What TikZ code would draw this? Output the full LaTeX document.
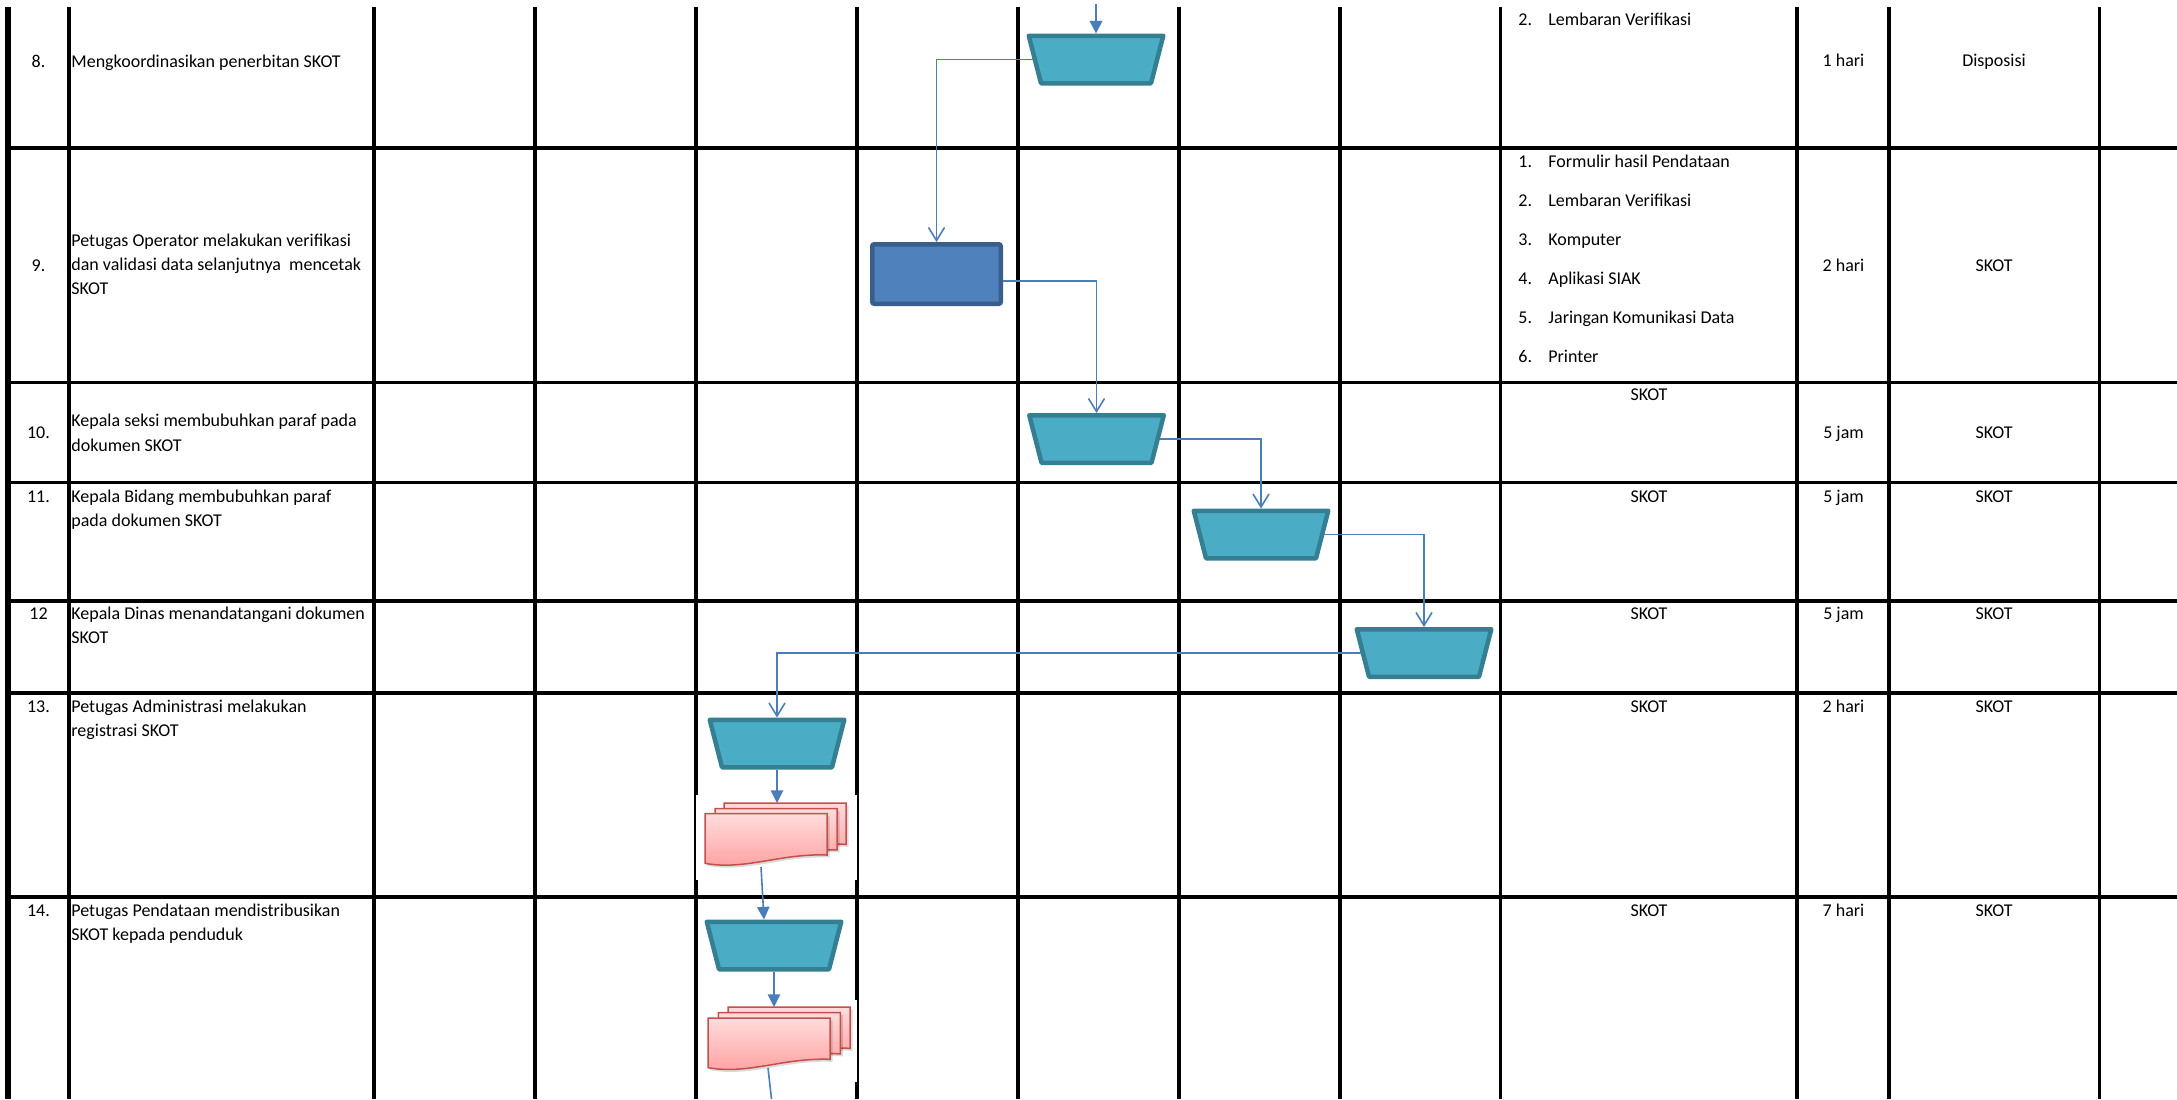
\documentclass[tikz,border=0pt]{standalone}
\usepackage{fontspec}
\setmainfont{Carlito}
\usetikzlibrary{arrows.meta,calc}
\definecolor{trapfill}{HTML}{4BACC6}
\definecolor{trapdraw}{HTML}{357F92}
\definecolor{procfill}{HTML}{4F81BD}
\definecolor{procdraw}{HTML}{3A5E8C}
\definecolor{conn}{HTML}{4A7EBB}
\definecolor{docdraw}{HTML}{C4504D}
\definecolor{doctop}{HTML}{FFDCDC}
\definecolor{docbot}{HTML}{FF9E9E}
\newcommand{\twoln}[2]{\vtop{\baselineskip=12.15pt\hbox{#1}\hbox{#2}}}
\newcommand{\threeln}[3]{\vtop{\baselineskip=12.15pt\hbox{#1}\hbox{#2}\hbox{#3}}}
\newcommand{\itm}[2]{\makebox[15pt][l]{#1}#2}
\tikzset{
  grid/.style={line width=1.65pt, black},
  trapbox/.style={rectangle, minimum width=63.4pt, minimum height=26pt, inner sep=0pt, outer sep=0pt},
  trappic/.pic={
    \path[fill=trapfill, draw=trapdraw, line width=2.25pt, line join=round]
      (-67.25,-23.75) -- (67.25,-23.75) -- (55,23.75) -- (-55,23.75) -- cycle;
  },
  proc/.style={rectangle, minimum width=64.25pt, minimum height=29.75pt,
    inner sep=0pt, fill=procfill, draw=procdraw, line width=2.25pt, rounded corners=1pt},
  docbox/.style={rectangle, minimum width=71pt, minimum height=31.5pt, inner sep=0pt, outer sep=0pt},
  docpage/.style={draw=docdraw, line width=0.75pt, top color=doctop, bottom color=docbot},
  docsheet/.pic={
    \path[fill=black, fill opacity=0.14] (2,2.5) -- (124.5,2.5) -- (124.5,43.8) .. controls (77,42) and (42,59.5) .. (2,52.1) -- cycle;
    \path[docpage] (0,0) -- (122,0) -- (122,41.3) .. controls (75,39.5) and (40,57) .. (0,49.6) -- cycle;
  },
  conn/.style={draw=conn, line width=0.8pt},
  openarr/.style={conn, -{Straight Barb[length=6.5pt, width=8pt]}},
  filledarr/.style={conn, -{Triangle[length=6.3pt, width=6.2pt]}},
  num/.style={anchor=base, inner sep=0pt},
  txt/.style={anchor=base west, inner sep=0pt},
  ctr/.style={anchor=base, inner sep=0pt}
}
\begin{document}
\begin{tikzpicture}[x=0.5pt, y=-0.5pt, font=\fontsize{9}{12.15}\selectfont]
\useasboundingbox (0,0) rectangle (2177,1099);
\fill[white] (0,0) rectangle (2177,1099);

% table grid
\foreach \x in {69,374,535,696,857,1018,1179,1340,1500.5,1797,1889,2099.5}
  \draw[grid] (\x,7) -- (\x,1099);
\draw[grid, line width=2.6pt] (8,7) -- (8,1099);
\foreach \y in {148,382.5,482.5,601,693,897}
  \draw[grid] (8,\y) -- (2177,\y);

% white backgrounds of the document pictures
\fill[white] (695.6,795) rectangle (857.2,880);
\fill[white] (700,1000) rectangle (857.2,1082);

% flowchart shapes
\node[trapbox] (t1) at (1096,59.5) {};
\node[proc] (p1) at (936.5,274) {};
\node[trapbox] (t2) at (1096.5,439) {};
\node[trapbox] (t3) at (1261,534.5) {};
\node[trapbox] (t4) at (1424,653) {};
\node[trapbox] (t5) at (777,743.5) {};
\node[trapbox] (t6) at (774,945.5) {};
\foreach \t in {t1,t2,t3,t4,t5,t6} \pic at (\t.center) {trappic};
\node[docbox] (d1) at (776,834.5) {};
\node[docbox] (d2) at (779,1038.5) {};
\coordinate (in0) at (1096,4);
\coordinate (out) at (771.5,1099);

\begin{scope}[shift={(d1.north west)}]
  \pic at (19,0) {docsheet};
  \pic at (10,5.6) {docsheet};
  \pic at (0,10.7) {docsheet};
\end{scope}
\begin{scope}[shift={(d2.north west)}]
  \pic at (20,0) {docsheet};
  \pic at (10.3,5.5) {docsheet};
  \pic at (0,11) {docsheet};
\end{scope}

% connectors
\draw[filledarr, line width=1.1pt] (in0) -- (t1.north);
\draw[openarr] (t1) -| (p1);
\draw[openarr] ($(p1.east)+(0,7)$) -| (t2.north);
\draw[openarr] (t2) -| (t3);
\draw[openarr] (t3) -| (t4);
\draw[openarr] (t4) -| (t5);
\draw[filledarr] (t5.south) -- (t5.south |- d1.north);
\draw[filledarr] ($(d1.north west)+(56,64)$) -- ($(t6.north)+(-10,0)$);
\draw[filledarr] (t6.south) -- (t6.south |- d2.north);
\draw[conn] ($(d2.north west)+(60,61)$) -- (out);

% column: numbers
\node[num] (n8) at (38.5,67) {8.};
\node[num] (n9) at (38.5,271) {9.};
\node[num] (n10) at (38.5,438) {10.};
\node[num] (n11) at (38.5,502) {11.};
\node[num] (n12) at (38.5,619.5) {12};
\node[num] (n13) at (38.5,712.5) {13.};
\node[num] (n14) at (38.5,916) {14.};

% column: activities
\node[txt] (a8) at (71,67) {Mengkoordinasikan penerbitan SKOT};
\node[txt] (a9) at (71,246) {\threeln{Petugas Operator melakukan verifikasi}{dan validasi data selanjutnya\ \ mencetak}{SKOT}};
\node[txt] (a10) at (71,426.7) {\twoln{Kepala seksi membubuhkan paraf pada}{dokumen SKOT}};
\node[txt] (a11) at (71,502) {\twoln{Kepala Bidang membubuhkan paraf}{pada dokumen SKOT}};
\node[txt] (a12) at (71,619.5) {\twoln{Kepala Dinas menandatangani dokumen}{SKOT}};
\node[txt] (a13) at (71,712.5) {\twoln{Petugas Administrasi melakukan}{registrasi SKOT}};
\node[txt] (a14) at (71,916) {\twoln{Petugas Pendataan mendistribusikan}{SKOT kepada penduduk}};

% column: kelengkapan
\node[txt] (b8) at (1518,25) {\itm{2.}{Lembaran Verifikasi}};
\node[txt] (b9a) at (1518,167) {\itm{1.}{Formulir hasil Pendataan}};
\node[txt] (b9b) at (1518,206) {\itm{2.}{Lembaran Verifikasi}};
\node[txt] (b9c) at (1518,245) {\itm{3.}{Komputer}};
\node[txt] (b9d) at (1518,284) {\itm{4.}{Aplikasi SIAK}};
\node[txt] (b9e) at (1518,323) {\itm{5.}{Jaringan Komunikasi Data}};
\node[txt] (b9f) at (1518,362) {\itm{6.}{Printer}};
\node[ctr] (b10) at (1649,400.7) {SKOT};
\node[ctr] (b11) at (1649,502.7) {SKOT};
\node[ctr] (b12) at (1649,619.3) {SKOT};
\node[ctr] (b13) at (1649,712.3) {SKOT};
\node[ctr] (b14) at (1649,916) {SKOT};

% column: waktu
\node[ctr] (w8) at (1843.5,66.7) {1 hari};
\node[ctr] (w9) at (1843.5,271.7) {2 hari};
\node[ctr] (w10) at (1843.5,438.3) {5 jam};
\node[ctr] (w11) at (1843.5,502.7) {5 jam};
\node[ctr] (w12) at (1843.5,619.3) {5 jam};
\node[ctr] (w13) at (1843.5,712.3) {2 hari};
\node[ctr] (w14) at (1843.5,916) {7 hari};

% column: output
\node[ctr] (o8) at (1994,66.7) {Disposisi};
\node[ctr] (o9) at (1994,271.7) {SKOT};
\node[ctr] (o10) at (1994,438.3) {SKOT};
\node[ctr] (o11) at (1994,502.7) {SKOT};
\node[ctr] (o12) at (1994,619.3) {SKOT};
\node[ctr] (o13) at (1994,712.3) {SKOT};
\node[ctr] (o14) at (1994,916) {SKOT};
\end{tikzpicture}
\end{document}
